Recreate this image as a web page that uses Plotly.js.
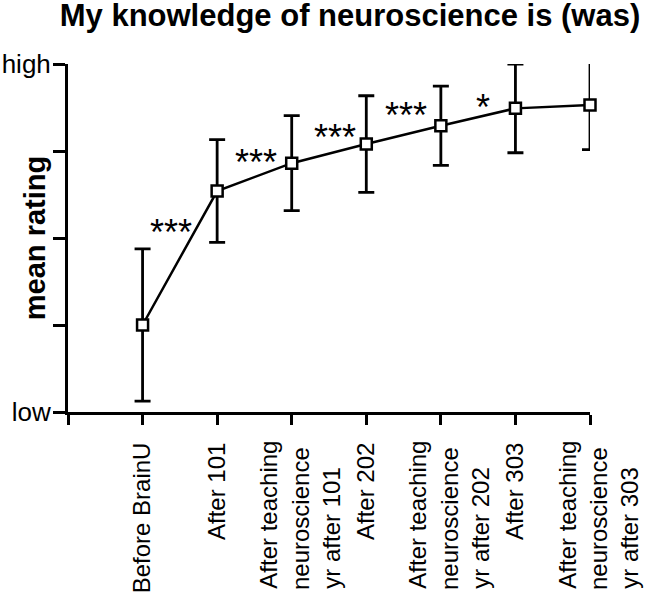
<!DOCTYPE html>
<html>
<head>
<meta charset="utf-8">
<script src="https://cdn.plot.ly/plotly-3.0.1.min.js"></script>
<style>html,body{margin:0;padding:0;background:#fff;}#chart{width:650px;height:595px;}</style>
</head>
<body>
<div id="chart"></div>
<script>
// ---- data ----
var categories = [
  ["Before BrainU"],
  ["After 101"],
  ["After teaching", "neuroscience", "yr after 101"],
  ["After 202"],
  ["After teaching", "neuroscience", "yr after 202"],
  ["After 303"],
  ["After teaching", "neuroscience", "yr after 303"]
];
var meanRating = [2.00, 3.54, 3.86, 4.08, 4.29, 4.49, 4.53];
var errorSize  = [0.876, 0.59, 0.546, 0.555, 0.456, 0.51, 0.514];
var yTickVals  = [1, 2, 3, 4, 5];
var yTickText  = ["low", "", "", "", "high"];
var sigLabels  = ["***", "***", "***", "***", "*"];
var sigX       = [0.376, 1.517, 2.577, 3.53, 4.564];
var sigY       = [3.126, 3.931, 4.218, 4.471, 4.552];

var FONT = "Liberation Sans, Arial, sans-serif";
var TICKSIZE = 24;

// pad shorter lines of a multi-line label so its lines start at the same point
var cv = document.createElement("canvas").getContext("2d");
cv.font = TICKSIZE + "px 'Liberation Sans'";
function padLines(lines) {
  var widths = lines.map(function (l) { return cv.measureText(l).width; });
  var maxW = Math.max.apply(null, widths);
  var sp = cv.measureText("\u00a0").width;
  return lines.map(function (l, i) {
    var n = Math.round((maxW - widths[i]) / sp);
    return l + new Array(n + 1).join("\u00a0");
  }).join("<br>");
}
var xIdx = categories.map(function (c, i) { return i; });
// single-line labels on the main x axis, multi-line labels on an overlay axis
var singleVals = [-1], singleText = [""], multiVals = [], multiText = [];
categories.forEach(function (c, i) {
  if (c.length === 1) { singleVals.push(i); singleText.push(c[0]); }
  else { singleVals.push(i); singleText.push(""); multiVals.push(i); multiText.push(padLines(c)); }
});

var trace = {
  type: "scatter",
  mode: "lines+markers",
  x: xIdx,
  y: meanRating,
  line: {color: "#000", width: 2.5},
  marker: {symbol: "square", size: 11, color: "#fff", line: {color: "#000", width: 2.5}},
  error_y: {type: "data", array: errorSize, visible: true, color: "#000", thickness: 2.8, width: 8},
  cliponaxis: false,
  hoverinfo: "skip",
  showlegend: false
};
// empty trace that only registers the overlay axes (labels + axis title)
var overlayHolder = {
  type: "scatter", mode: "markers", x: [null], y: [null],
  xaxis: "x2", yaxis: "y2", hoverinfo: "skip", showlegend: false
};

var annotations = sigLabels.map(function (t, i) {
  return {
    x: sigX[i], y: sigY[i], xref: "x", yref: "y", text: t, showarrow: false,
    xanchor: "center", yanchor: "middle", yshift: -5,
    font: {family: FONT, size: 36, color: "#000"}
  };
});

var commonX = {
  range: [-1, 6], tickmode: "array", tickangle: -90,
  ticks: "outside", ticklen: 10, tickwidth: 3,
  showgrid: false, zeroline: false,
  tickfont: {family: FONT, size: TICKSIZE, color: "#000"}, ticklabelstandoff: 8
};

var layout = {
  width: 650, height: 595,
  margin: {l: 68, r: 60, t: 64, b: 183, pad: 0},
  paper_bgcolor: "#fff", plot_bgcolor: "#fff",
  font: {family: FONT, color: "#000"},
  title: {
    text: "My knowledge of neuroscience is (was)",
    font: {family: FONT, size: 31, weight: 700, color: "#000"},
    x: 350 / 650, xref: "container", xanchor: "center",
    y: 0.992, yref: "container", yanchor: "top"
  },
  xaxis: Object.assign({}, commonX, {
    tickvals: singleVals, ticktext: singleText, tickcolor: "#000",
    showline: true, linewidth: 3, linecolor: "#000"
  }),
  xaxis2: Object.assign({}, commonX, {
    overlaying: "x", anchor: "y2", side: "bottom",
    tickvals: multiVals, ticktext: multiText, tickcolor: "rgba(0,0,0,0)",
    showline: false, ticklabelshift: 9
  }),
  yaxis: {
    range: [1, 5], tickmode: "array", tickvals: yTickVals, ticktext: yTickText,
    ticks: "outside", ticklen: 12, tickwidth: 3, tickcolor: "#000",
    showline: true, linewidth: 3, linecolor: "#000", showgrid: false, zeroline: false,
    tickfont: {family: FONT, size: 26, color: "#000"}, ticklabelstandoff: -3
  },
  yaxis2: {
    overlaying: "y", anchor: "x2", side: "left", range: [1, 5],
    showline: false, showticklabels: false, ticks: "", showgrid: false, zeroline: false,
    title: {text: "mean rating", font: {family: FONT, size: 29, weight: 700, color: "#000"}, standoff: 12}
  },
  annotations: annotations
};

Plotly.newPlot("chart", [trace, overlayHolder], layout, {staticPlot: true, displayModeBar: false});
</script>
</body>
</html>
